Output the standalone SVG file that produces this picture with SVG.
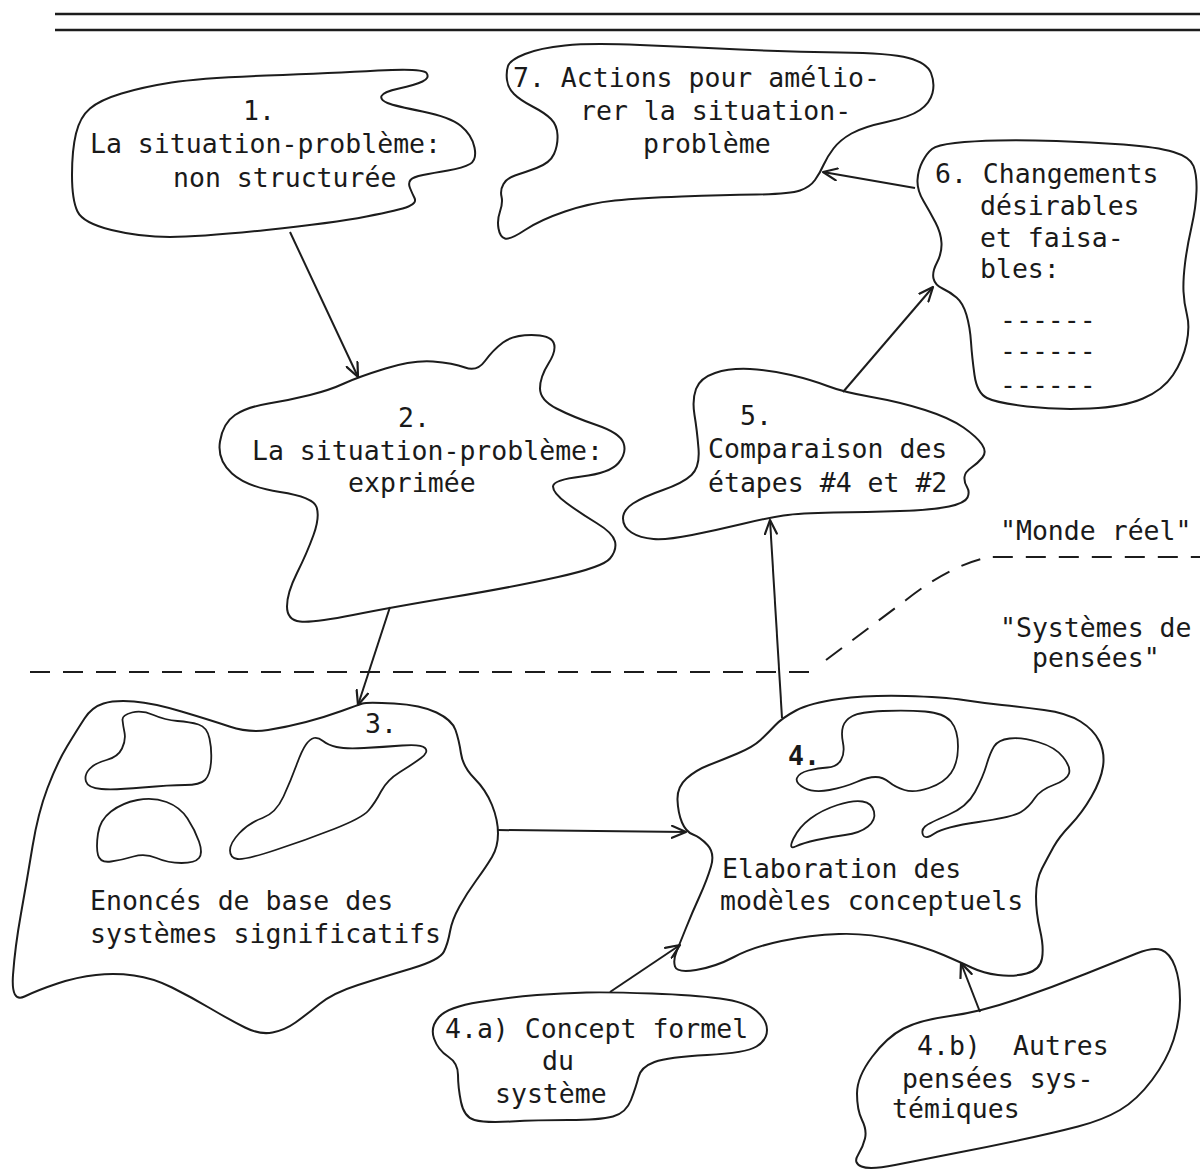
<svg xmlns="http://www.w3.org/2000/svg" width="1200" height="1169" viewBox="0 0 1200 1169">
<defs>
<style>
.blob{fill:none;stroke:#1c1c1c;stroke-width:2;stroke-linejoin:round;stroke-linecap:round}
.inner{fill:none;stroke:#1c1c1c;stroke-width:1.8;stroke-linejoin:round}
.t{font-family:"DejaVu Sans Mono","Liberation Mono",monospace;font-size:26.5px;fill:#1a1a1a}
.edge{fill:none;stroke:#1c1c1c;stroke-width:2;marker-end:url(#arr)}
.dash{fill:none;stroke:#1c1c1c;stroke-width:2;stroke-dasharray:20 13}
.rule{stroke:#1c1c1c;stroke-width:2.5}
</style>
<marker id="arr" viewBox="0 0 16 14" refX="15" refY="7" markerWidth="16" markerHeight="14" markerUnits="userSpaceOnUse" orient="auto">
<path d="M1,1 L15,7 L1,13" fill="none" stroke="#1c1c1c" stroke-width="2.2" stroke-linecap="round" stroke-linejoin="round"/>
</marker>
</defs>
<rect width="1200" height="1169" fill="#ffffff"/>
<g id="header">
<line class="rule" x1="55" y1="14" x2="1200" y2="14"/>
<line class="rule" x1="55" y1="30" x2="1200" y2="30"/>
</g>
<g id="boundary">
<path class="dash" d="M30,672 L812,672"/>
<path class="dash" d="M826,660 L906,600 Q950,565 990,557 L1200,557"/>
<text class="t" x="1000" y="540">"Monde réel"</text>
<text class="t" x="1000" y="637">"Systèmes de</text>
<text class="t" x="1032" y="667">pensées"</text>
</g>
<g id="node-1">
<path class="blob" d="M76,133.5 Q80,117 90,108.5 Q100,100 121.5,93.5 Q143,87 171.5,82.5 Q200,78 266.5,75.5 Q333,73 378,70.5 Q423,68 426.5,73 Q430,78 422.5,81.5 Q415,85 399,88.5 Q383,92 381.5,96 Q380,100 387.5,103 Q395,106 422.5,111.5 Q450,117 461,126 Q472,135 474.5,147.5 Q477,160 470,164 Q463,168 448,170.5 Q433,173 423,175 Q413,177 410.5,180 Q408,183 410,188 Q412,193 414.5,198 Q417,203 408.5,206.5 Q400,210 366.5,216.5 Q333,223 266.5,230 Q200,237 170,237 Q140,237 111.5,230 Q83,223 77.5,211.5 Q72,200 72,175 Q72,150 76,133.5 Z"/>
<text class="t" x="243" y="120">1.</text>
<text class="t" x="90" y="153">La situation-problème:</text>
<text class="t" x="173" y="187">non structurée</text>
</g>
<g id="node-2">
<path class="blob" d="M344,383.5 Q358,377 385.5,368.5 Q413,360 433,361.5 Q453,363 465,367.5 Q477,372 485,361 Q493,350 503,342.5 Q513,335 531.5,335 Q550,335 553.5,342.5 Q557,350 548.5,363.5 Q540,377 540,388.5 Q540,400 556.5,408.5 Q573,417 596.5,425 Q620,433 623.5,443 Q627,453 618.5,463 Q610,473 581.5,476.5 Q553,480 553,486.5 Q553,493 566.5,503 Q580,513 596.5,523 Q613,533 615,541.5 Q617,550 610,558.5 Q603,567 558,577 Q513,587 453,597 Q393,607 353,615 Q313,623 300,621.5 Q287,620 287,606.5 Q287,593 297,573 Q307,553 313.5,535 Q320,517 316.5,507 Q313,497 280,492 Q247,487 232,473.5 Q217,460 220,441.5 Q223,423 235,415 Q247,407 268.5,403.5 Q290,400 310,395 Q330,390 344,383.5 Z"/>
<text class="t" x="398" y="427">2.</text>
<text class="t" x="252" y="460">La situation-problème:</text>
<text class="t" x="348" y="492">exprimée</text>
</g>
<g id="node-7">
<path class="blob" d="M508,66 Q510,60 525,54 Q540,48 565,45.5 Q590,43 640,45 Q690,47 740,49.5 Q790,52 840,52.5 Q890,53 908.5,58 Q927,63 931,73 Q935,83 932.5,93 Q930,103 920,110 Q910,117 886.5,122 Q863,127 851.5,133.5 Q840,140 833.5,148.5 Q827,157 823.5,165 Q820,173 815,180 Q810,187 800,190.5 Q790,194 756.5,194.5 Q723,195 681.5,196.5 Q640,198 615,200.5 Q590,203 565,211.5 Q540,220 525,230 Q510,240 505,238.5 Q500,237 498.5,228.5 Q497,220 500,211.5 Q503,203 501.5,196.5 Q500,190 503.5,184 Q507,178 515,175.5 Q523,173 536.5,168 Q550,163 554,154 Q558,145 557.5,135 Q557,125 551,119 Q545,113 532.5,106.5 Q520,100 514,94 Q508,88 507,80 Q506,72 508,66 Z"/>
<text class="t" x="513" y="87">7. Actions pour amélio-</text>
<text class="t" x="580" y="120">rer la situation-</text>
<text class="t" x="643" y="153">problème</text>
</g>
<g id="node-6">
<path class="blob" d="M922.5,161.5 Q927,153 932,149 Q937,145 955,143 Q973,141 998,140.5 Q1023,140 1056.5,141 Q1090,142 1123.5,144.5 Q1157,147 1173.5,152 Q1190,157 1193.5,166 Q1197,175 1196.5,191 Q1196,207 1191.5,227 Q1187,247 1185,263.5 Q1183,280 1183.5,291.5 Q1184,303 1187,315 Q1190,327 1186.5,343.5 Q1183,360 1173,375 Q1163,390 1143,398.5 Q1123,407 1090,408.5 Q1057,410 1027,406.5 Q997,403 987,398 Q977,393 974.5,375 Q972,357 971,342 Q970,327 966.5,315 Q963,303 956.5,297.5 Q950,292 942.5,288.5 Q935,285 933.5,278.5 Q932,272 937,262.5 Q942,253 941.5,243 Q941,233 935.5,222.5 Q930,212 923.5,201 Q917,190 917.5,180 Q918,170 922.5,161.5 Z"/>
<text class="t" x="935" y="183">6. Changements</text>
<text class="t" x="980" y="215">désirables</text>
<text class="t" x="980" y="247">et faisa-</text>
<text class="t" x="980" y="278">bles:</text>
<text class="t" x="1000" y="329">------</text>
<text class="t" x="1000" y="360">------</text>
<text class="t" x="1000" y="394">------</text>
</g>
<g id="node-5">
<path class="blob" d="M827.5,386 Q843,392 871.5,397 Q900,402 925,410 Q950,418 963.5,427.5 Q977,437 982,444.5 Q987,452 982.5,457.5 Q978,463 971.5,467.5 Q965,472 964.5,477 Q964,482 967,487 Q970,492 967.5,497.5 Q965,503 949,506.5 Q933,510 900,511 Q867,512 833.5,512.5 Q800,513 783.5,515.5 Q767,518 742,524 Q717,530 692,535 Q667,540 653.5,539 Q640,538 631.5,532.5 Q623,527 623,518.5 Q623,510 633,503.5 Q643,497 663,490 Q683,483 691.5,475 Q700,467 698.5,448.5 Q697,430 694.5,415 Q692,400 696,389 Q700,378 715,373 Q730,368 750,369 Q770,370 791,375 Q812,380 827.5,386 Z"/>
<text class="t" x="740" y="425">5.</text>
<text class="t" x="708" y="458">Comparaison des</text>
<text class="t" x="708" y="492">étapes #4 et #2</text>
</g>
<g id="node-3">
<path class="blob" d="M341.5,711 Q358,705 362.5,703.5 Q367,702 394,703.5 Q421,705 436.5,712.5 Q452,720 455.5,730 Q459,740 461,753.5 Q463,767 474.5,778.5 Q486,790 492,805 Q498,820 498,833.5 Q498,847 492,857 Q486,867 476.5,880 Q467,893 459.5,906.5 Q452,920 450,931.5 Q448,943 444,951.5 Q440,960 411.5,968.5 Q383,977 358,985 Q333,993 319.5,1004 Q306,1015 295.5,1022.5 Q285,1030 272.5,1032.5 Q260,1035 245,1027.5 Q230,1020 210.5,1008.5 Q191,997 172,987.5 Q153,978 134,975.5 Q115,973 96,975 Q77,977 57.5,983.5 Q38,990 24.5,996.5 Q11,1003 13,975 Q15,947 21,913.5 Q27,880 32.5,846.5 Q38,813 47.5,788 Q57,763 67,746.5 Q77,730 84.5,718.5 Q92,707 103.5,703.5 Q115,700 134,701.5 Q153,703 181.5,711.5 Q210,720 229.5,726.5 Q249,733 268,730 Q287,727 306,722 Q325,717 341.5,711 Z"/>
<path class="inner" d="M122.5,720 Q122,715 132,712.5 Q142,710 153.5,715 Q165,720 177.5,721 Q190,722 198.5,724.5 Q207,727 209.5,738.5 Q212,750 211,762.5 Q210,775 205,780 Q200,785 185,785 Q170,785 142.5,787.5 Q115,790 101.5,789 Q88,788 86,781.5 Q84,775 89.5,769 Q95,763 106.5,760 Q118,757 122,748.5 Q126,740 124.5,732.5 Q123,725 122.5,720 Z"/>
<path class="inner" d="M98,833.5 Q100,820 111,811.5 Q122,803 137.5,800 Q153,797 166.5,802 Q180,807 187.5,818.5 Q195,830 199,841.5 Q203,853 199,858 Q195,863 181.5,863 Q168,863 156.5,858 Q145,853 133.5,856.5 Q122,860 111,861.5 Q100,863 98,855 Q96,847 98,833.5 Z"/>
<path class="inner" d="M314,738 Q318,737 323,741 Q328,745 336.5,747 Q345,749 364,748 Q383,747 402,745.5 Q421,744 425,748 Q429,752 421,758 Q413,764 400,772 Q387,780 381,791.5 Q375,803 368.5,810.5 Q362,818 334,829 Q306,840 275.5,850 Q245,860 237.5,859 Q230,858 230,850.5 Q230,843 239.5,833 Q249,823 262.5,818 Q276,813 283.5,796.5 Q291,780 296.5,765 Q302,750 306,744.5 Q310,739 314,738 Z"/>
<text class="t" x="365" y="733">3.</text>
<text class="t" x="90" y="910">Enoncés de base des</text>
<text class="t" x="90" y="943">systèmes significatifs</text>
</g>
<g id="node-4">
<path class="blob" d="M775,725.5 Q782,718 796,710.5 Q810,703 839,699 Q868,695 906,696 Q944,697 963.5,700 Q983,703 1002,705 Q1021,707 1044,710 Q1067,713 1080.5,721.5 Q1094,730 1099.5,741.5 Q1105,753 1103,766.5 Q1101,780 1091.5,796.5 Q1082,813 1070.5,825 Q1059,837 1053.5,847 Q1048,857 1042,868.5 Q1036,880 1036,896.5 Q1036,913 1040,930 Q1044,947 1042,958.5 Q1040,970 1026.5,973.5 Q1013,977 998,975 Q983,973 972.5,968 Q962,963 943.5,955 Q925,947 896.5,940 Q868,933 839,934 Q810,935 781.5,941 Q753,947 734,957 Q715,967 696,970 Q677,973 675,966.5 Q673,960 676.5,951.5 Q680,943 686,928 Q692,913 699.5,896.5 Q707,880 711,866.5 Q715,853 707.5,845 Q700,837 693,834.5 Q686,832 682,822.5 Q678,813 677.5,800 Q677,787 686.5,778.5 Q696,770 709,765 Q722,760 737.5,753.5 Q753,747 760.5,740 Q768,733 775,725.5 Z"/>
<path class="inner" d="M843,726.5 Q845,720 852.5,716 Q860,712 883,711 Q906,710 925,711.5 Q944,713 951,721.5 Q958,730 958,746.5 Q958,763 951,773 Q944,783 929,788 Q914,793 904.5,790 Q895,787 889,782 Q883,777 875.5,777 Q868,777 856.5,782 Q845,787 829.5,790 Q814,793 804.5,788 Q795,783 797,778 Q799,773 808.5,770.5 Q818,768 827.5,767.5 Q837,767 841,760 Q845,753 843,743 Q841,733 843,726.5 Z"/>
<path class="inner" d="M795.5,846.5 Q788,850 793.5,838.5 Q799,827 810.5,818.5 Q822,810 837.5,805 Q853,800 862.5,801.5 Q872,803 874,811.5 Q876,820 868,826.5 Q860,833 845,835 Q830,837 816.5,840 Q803,843 795.5,846.5 Z"/>
<path class="inner" d="M994,746.5 Q998,740 1009.5,738.5 Q1021,737 1038,742 Q1055,747 1063,757 Q1071,767 1069,773.5 Q1067,780 1053.5,785 Q1040,790 1034.5,798.5 Q1029,807 1021,812 Q1013,817 978.5,822 Q944,827 934.5,833.5 Q925,840 923,835 Q921,830 925,826.5 Q929,823 948,815 Q967,807 975,792 Q983,777 986.5,765 Q990,753 994,746.5 Z"/>
<text class="t" x="788" y="765" font-weight="bold">4.</text>
<text class="t" x="722" y="878">Elaboration des</text>
<text class="t" x="720" y="910">modèles conceptuels</text>
</g>
<g id="node-4a">
<path class="blob" d="M586.5,992.5 Q610,992 652,993.5 Q694,995 720,998.5 Q746,1002 756.5,1011 Q767,1020 767,1030 Q767,1040 756.5,1046.5 Q746,1053 707,1055 Q668,1057 654.5,1062 Q641,1067 638.5,1077 Q636,1087 631,1100 Q626,1113 613,1116.5 Q600,1120 568.5,1120 Q537,1120 511,1121.5 Q485,1123 474.5,1120 Q464,1117 461,1102 Q458,1087 458,1075 Q458,1063 448,1056.5 Q438,1050 434,1038.5 Q430,1027 439,1017 Q448,1007 479.5,1002 Q511,997 537,995 Q563,993 586.5,992.5 Z"/>
<text class="t" x="445" y="1038">4.a) Concept formel</text>
<text class="t" x="542" y="1070">du</text>
<text class="t" x="495" y="1103">système</text>
</g>
<g id="node-4b">
<path class="blob" d="M950,1016 Q980,1012 1016.5,999.5 Q1053,987 1086.5,973.5 Q1120,960 1136.5,953.5 Q1153,947 1161.5,950 Q1170,953 1175,966.5 Q1180,980 1180,1000 Q1180,1020 1173.5,1040 Q1167,1060 1152,1080 Q1137,1100 1120,1110 Q1103,1120 1078,1126.5 Q1053,1133 1020,1140 Q987,1147 953.5,1153.5 Q920,1160 895,1165 Q870,1170 861.5,1166.5 Q853,1163 858,1155 Q863,1147 865,1138.5 Q867,1130 862,1120 Q857,1110 857,1093.5 Q857,1077 872,1057 Q887,1037 903.5,1028.5 Q920,1020 950,1016 Z"/>
<text class="t" x="917" y="1055">4.b)<tspan x="1013">Autres</tspan></text>
<text class="t" x="902" y="1088">pensées sys-</text>
<text class="t" x="892" y="1118">témiques</text>
</g>
<g id="connectors">
<path class="edge" d="M290,232 L358,377"/>
<path class="edge" d="M390,607 L358,705"/>
<path class="edge" d="M498,830 L686,832"/>
<path class="edge" d="M782,718 L770,520"/>
<path class="edge" d="M843,392 L933,287"/>
<path class="edge" d="M915,188 L823,172"/>
<path class="edge" d="M610,992 L680,945"/>
<path class="edge" d="M980,1012 L961,963"/>
</g>
</svg>
